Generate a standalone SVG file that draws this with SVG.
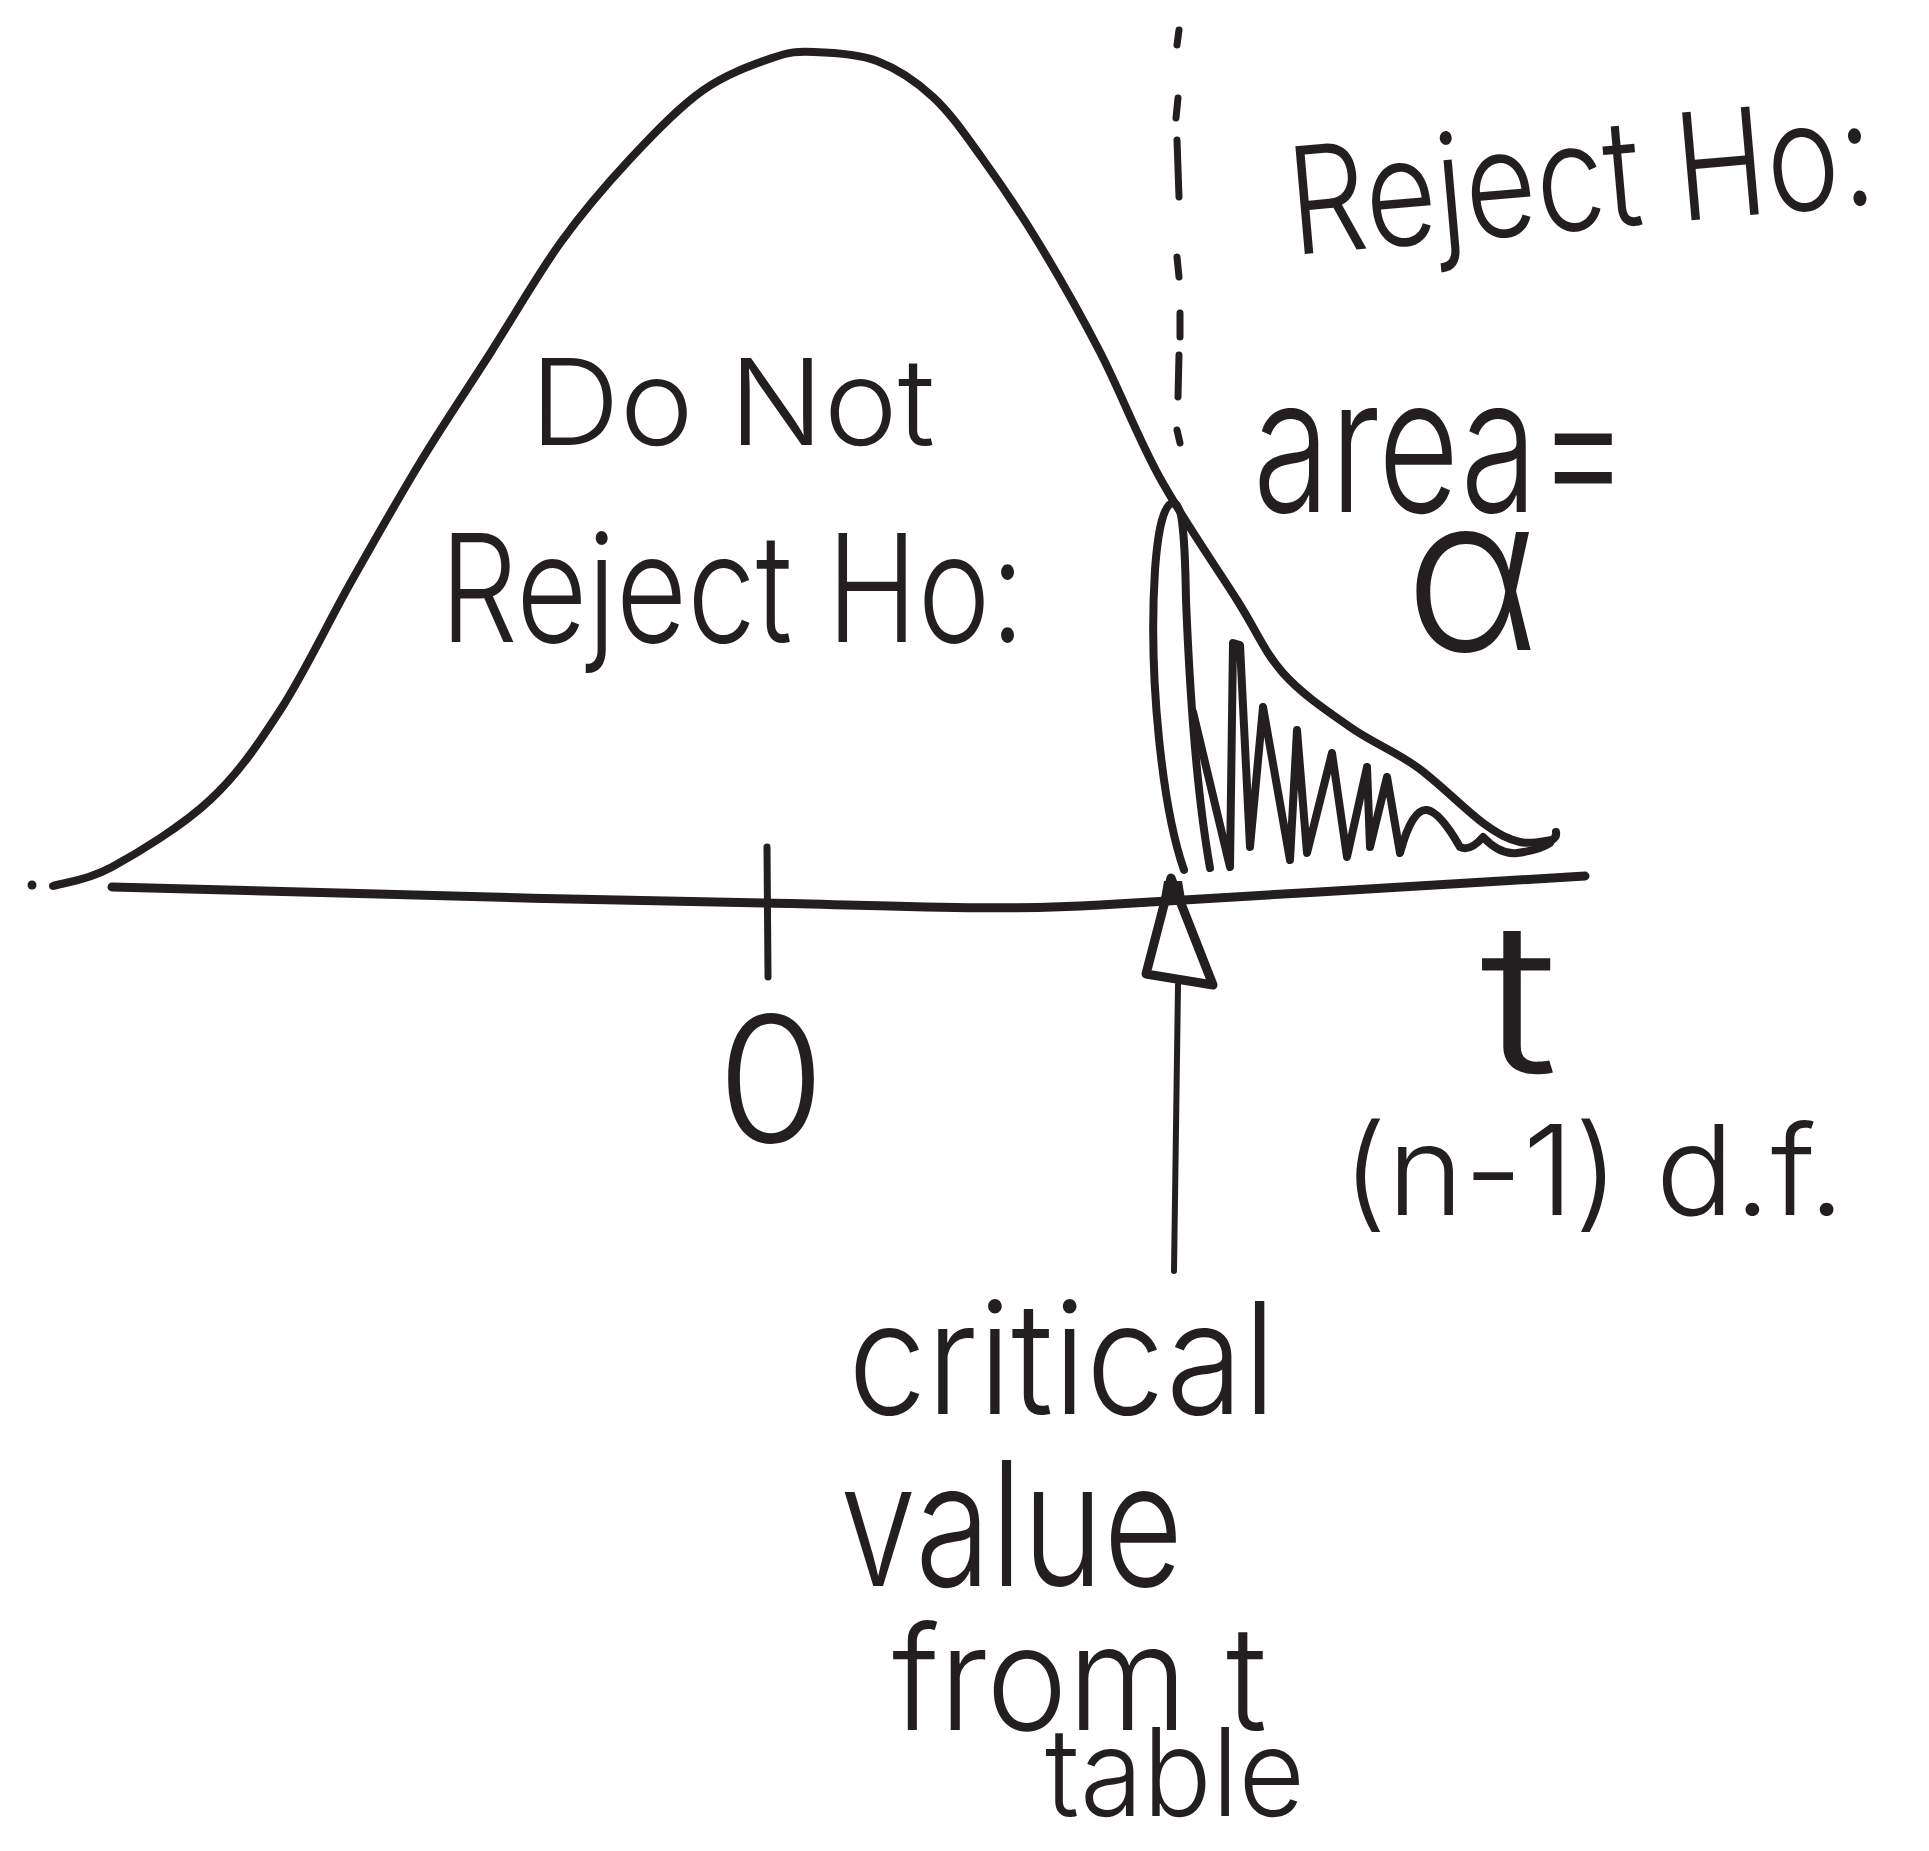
<svg xmlns="http://www.w3.org/2000/svg" width="1929" height="1851" viewBox="0 0 1929 1851">
<style>
.ink{fill:none;stroke:#231f20;stroke-linecap:round;stroke-linejoin:round}
.hw{font-family:"Inter","Liberation Sans","DejaVu Sans",sans-serif;font-weight:300;fill:#231f20}
</style>
<rect width="1929" height="1851" fill="#ffffff"/>
<g id="distribution-curve">
<path class="ink" stroke-width="8" d="M53,886 C62.8,882.8 85.8,881.3 112,867 C138.2,852.7 181.8,826.3 210,800 C238.2,773.7 257.5,745.3 281,709 C304.5,672.7 327.7,623.3 351,582 C374.3,540.7 397.7,499.3 421,461 C444.3,422.7 467.7,388.5 491,352 C514.3,315.5 537.7,274.3 561,242 C584.3,209.7 607.5,183.2 631,158 C654.5,132.8 678.5,107.7 702,91 C725.5,74.3 753.3,64.5 772,58 C790.7,51.5 796.5,51.5 814,52 C831.5,52.5 857.2,53.5 877,61 C896.8,68.5 915.5,80.8 933,97 C950.5,113.2 964.5,133.8 982,158 C999.5,182.2 1018.3,209.7 1038,242 C1057.7,274.3 1079.7,312.7 1100,352 C1120.3,391.3 1137.2,436.7 1160,478 C1182.8,519.3 1216.5,567.5 1237,600 C1257.5,632.5 1264.2,651.8 1283,673 C1301.8,694.2 1327.7,711.3 1350,727 C1372.3,742.7 1394.8,751 1417,767 C1439.2,783 1465.8,810.5 1483,823 C1500.2,835.5 1508.5,839.2 1520,842 C1531.5,844.8 1546.7,840.3 1552,840 Q1557,837 1556,832"/>
<circle cx="32" cy="885" r="4.5" fill="#231f20"/>
</g>
<g id="axis">
<path class="ink" stroke-width="9" d="M112,887 C300,893 550,899 767,903 C900,906 1000,911 1100,905 C1250,896 1450,884 1585,876"/>
<path class="ink" stroke-width="7" d="M767,847 L768,977"/>
</g>
<g id="critical-divider">
<path class="ink" stroke-width="7" d="M1179,30 L1177,45 M1178,98 L1176,118 M1177,140 L1179,197 M1177,257 L1179,277 M1180,313 L1180,337 M1179,355 L1178,397 M1177,430 L1180,443"/>
</g>
<g id="rejection-shading">
<path class="ink" stroke-width="8" d="M1184,870 C1163,810 1148,680 1155,570 C1158,528 1164,504 1173,503 C1183,503 1185,540 1186,600 C1190,700 1198,800 1210,868"/>
<path class="ink" stroke-width="8" d="M1193,712 L1230,867 L1233,643 L1240,645 L1250,847 L1263,707 L1290,860 L1297,730 L1307,853 L1332,753 L1347,857 L1367,767 L1370,847 L1387,777 L1400,853 Q1412,808 1427,810 Q1440,812 1460,847 Q1470,852 1483,837 Q1500,855 1517,853 Q1540,850 1550,843"/>
</g>
<g id="connectors">
<path class="ink" stroke-width="6" d="M1178,985 L1174,1271"/>
<polygon points="1171,878 1146,974 1213,985" fill="none" stroke="#231f20" stroke-width="9" stroke-linejoin="round"/>
<polygon points="1164,881 1182,881 1186,905 1160,905" fill="#231f20"/>
</g>
<g id="label-reject-top">
<text class="hw" x="0" y="0" font-size="124" textLength="587" lengthAdjust="spacingAndGlyphs" transform="rotate(-5 1293 255) translate(1293,255) scale(1,1.2)">Reject Ho:</text>
</g>
<g id="label-do-not-reject">
<text class="hw" x="530" y="445" font-size="120" textLength="405" lengthAdjust="spacingAndGlyphs">Do Not</text>
<text class="hw" x="440" y="642" font-size="150" textLength="585" lengthAdjust="spacingAndGlyphs">Reject Ho:</text>
</g>
<g id="label-area">
<text class="hw" font-size="150" textLength="376" lengthAdjust="spacingAndGlyphs" transform="translate(1253,512) scale(1,1.25)" x="0" y="0">area=</text>
<text class="hw" font-size="180" text-anchor="middle" transform="translate(1472,650) scale(1.15,1.2)" x="0" y="0">α</text>
</g>
<g id="label-zero">
<text class="hw" x="771" y="1142" font-size="175" text-anchor="middle">0</text>
</g>
<g id="label-t">
<text class="hw" font-size="210" text-anchor="middle" transform="translate(1519,1073) scale(1.25,1)" x="0" y="0">t</text>
<text class="hw" x="1342" y="1215" font-size="125" textLength="503" lengthAdjust="spacingAndGlyphs">(n-1) d.f.</text>
</g>
<g id="label-critical-value">
<text class="hw" x="848" y="1414" font-size="155" textLength="428" lengthAdjust="spacingAndGlyphs">critical</text>
<text class="hw" font-size="150" textLength="343" lengthAdjust="spacingAndGlyphs" transform="translate(840,1586) scale(1,1.15)" x="0" y="0">value</text>
<text class="hw" x="892" y="1730" font-size="145" textLength="375" lengthAdjust="spacingAndGlyphs">from t</text>
<text class="hw" x="1045" y="1816" font-size="122" textLength="260" lengthAdjust="spacingAndGlyphs">table</text>
</g>
</svg>
